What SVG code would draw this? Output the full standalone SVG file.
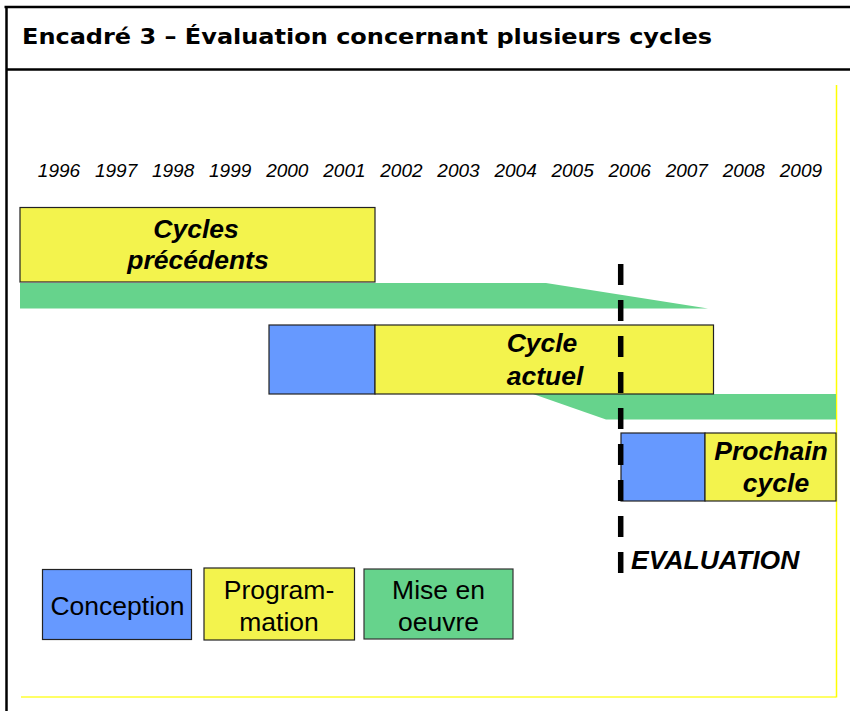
<svg xmlns="http://www.w3.org/2000/svg" width="850" height="711" viewBox="0 0 850 711">
  <style>
    .title { font-family: "DejaVu Sans Condensed", "Liberation Sans", sans-serif; font-weight: bold; font-size: 21px; fill: #000; }
    .year { font-family: "Liberation Sans", Arial, sans-serif; font-style: italic; font-size: 19px; fill: #000; text-anchor: middle; }
    .lbl { font-family: "Liberation Sans", Arial, sans-serif; font-style: italic; font-weight: bold; font-size: 26.5px; fill: #000; text-anchor: middle; }
    .leg { font-family: "Liberation Sans", Arial, sans-serif; font-size: 26.5px; fill: #000; text-anchor: middle; }
    .conc { fill: #6699ff; stroke: #222; stroke-width: 1.2; }
    .prog { fill: #f3f34d; stroke: #222; stroke-width: 1.2; }
    .mise { fill: #66d38c; stroke: #333; stroke-width: 1.2; }
    .band { fill: #66d38c; }
    .frame { stroke: #000; stroke-width: 2.5; fill: none; }
    .edge { stroke: #ffff00; stroke-width: 1.5; fill: none; }
  </style>

  <rect width="850" height="711" fill="#fff"/>

  <!-- box frame and title -->
  <g id="frame">
    <line class="frame" x1="4.5" y1="7" x2="850" y2="7"/>
    <line class="frame" x1="6.5" y1="6" x2="6.5" y2="711"/>
    <line class="frame" x1="6" y1="69.5" x2="850" y2="69.5"/>
    <text class="title" x="22" y="44" textLength="690" lengthAdjust="spacingAndGlyphs">Encadré 3 – Évaluation concernant plusieurs cycles</text>
    <line class="edge" x1="836.5" y1="85" x2="836.5" y2="697.5"/>
    <line class="edge" x1="21" y1="697" x2="836" y2="697" stroke-width="1.2" stroke-opacity="0.8"/>
  </g>

  <!-- year axis -->
  <g id="years">
    <text class="year" x="59" y="177">1996</text>
    <text class="year" x="116.1" y="177">1997</text>
    <text class="year" x="173.1" y="177">1998</text>
    <text class="year" x="230.2" y="177">1999</text>
    <text class="year" x="287.3" y="177">2000</text>
    <text class="year" x="344.4" y="177">2001</text>
    <text class="year" x="401.4" y="177">2002</text>
    <text class="year" x="458.5" y="177">2003</text>
    <text class="year" x="515.6" y="177">2004</text>
    <text class="year" x="572.6" y="177">2005</text>
    <text class="year" x="629.7" y="177">2006</text>
    <text class="year" x="686.8" y="177">2007</text>
    <text class="year" x="743.8" y="177">2008</text>
    <text class="year" x="800.9" y="177">2009</text>
  </g>

  <!-- implementation bands -->
  <g id="connectors">
    <polygon class="band" points="20,283 546,283 708,308.5 20,308.5"/>
    <polygon class="band" points="533,394 836,394 836,419.5 606,419.5"/>
  </g>

  <g id="cycles-precedents">
    <rect class="prog" x="20" y="207.5" width="355" height="74.5"/>
    <text class="lbl" x="196" y="238">Cycles</text>
    <text class="lbl" x="198" y="269">précédents</text>
  </g>

  <g id="cycle-actuel">
    <rect class="conc" x="269" y="325" width="106" height="69"/>
    <rect class="prog" x="375" y="325" width="338.5" height="69"/>
    <text class="lbl" x="542" y="352">Cycle</text>
    <text class="lbl" x="545" y="385">actuel</text>
  </g>

  <g id="prochain-cycle">
    <rect class="conc" x="621" y="433" width="84" height="68"/>
    <rect class="prog" x="705" y="433" width="131" height="68"/>
    <text class="lbl" x="771" y="460">Prochain</text>
    <text class="lbl" x="776" y="492">cycle</text>
  </g>

  <!-- evaluation marker -->
  <g id="evaluation">
    <line x1="620.7" y1="264" x2="620.7" y2="573" stroke="#000" stroke-width="5.5" stroke-dasharray="21 15"/>
    <text class="lbl" x="631" y="569" style="text-anchor:start">EVALUATION</text>
  </g>

  <!-- legend -->
  <g id="legend-conception">
    <rect class="conc" x="42.5" y="569.5" width="149" height="70"/>
    <text class="leg" x="117.5" y="615">Conception</text>
  </g>
  <g id="legend-programmation">
    <rect class="prog" x="204" y="568" width="150.5" height="72"/>
    <text class="leg" x="279" y="599">Program-</text>
    <text class="leg" x="279" y="631">mation</text>
  </g>
  <g id="legend-mise-en-oeuvre">
    <rect class="mise" x="364" y="569" width="149" height="70"/>
    <text class="leg" x="438.5" y="599">Mise en</text>
    <text class="leg" x="438.5" y="631">oeuvre</text>
  </g>
</svg>
